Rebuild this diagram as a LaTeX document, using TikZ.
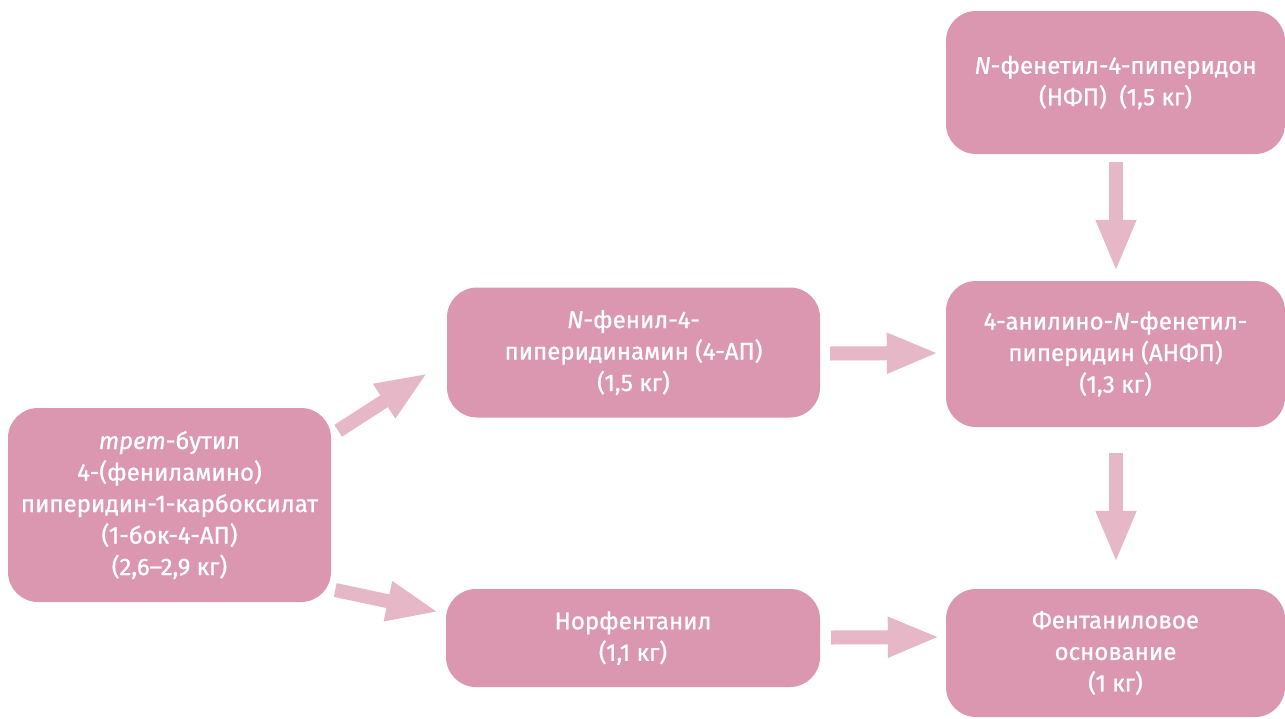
\documentclass[tikz,border=0pt]{standalone}
\usepackage{fontspec}
\setmainfont{Fira Sans}[FakeBold=0.9]
\usetikzlibrary{arrows.meta,calc}
\definecolor{boxpink}{HTML}{DB97B0}
\definecolor{arrowpink}{HTML}{E5B7C7}
\tikzset{
  chembox/.style={rounded corners=30pt, fill=boxpink, text=white, align=center,
    font=\fontsize{24}{31.5}\selectfont, inner sep=0pt},
  blockarrow/.style={draw=arrowpink, line width=14pt,
    -{Triangle[length=52pt,width=37pt]}},
}
\begin{document}
\begin{tikzpicture}[x=1pt,y=-1pt]
\useasboundingbox (0,0) rectangle (1285,718);
\node[chembox, minimum width=323pt, minimum height=194pt] (A) at (169.5,505)
  {\textit{трет}-бутил\\4-(фениламино)\\пиперидин-1-карбоксилат\\(1-бок-4-АП)\\(2,6–2,9 кг)};
\node[chembox, minimum width=373pt, minimum height=130pt] (B) at (633.5,352.5)
  {\textit{N}-фенил-4-\\пиперидинамин (4-АП)\\(1,5 кг)};
\node[chembox, minimum width=339pt, minimum height=143pt] (C) at (1115.5,82.5)
  {\textit{N}-фенетил-4-пиперидон\\(НФП)\ \ (1,5 кг)};
\node[chembox, minimum width=339pt, minimum height=146pt] (D) at (1115.5,354)
  {4-анилино-\textit{N}-фенетил-\\пиперидин (АНФП)\\(1,3 кг)};
\node[chembox, minimum width=374pt, minimum height=98pt] (E) at (633,638)
  {Норфентанил\\(1,1 кг)};
\node[chembox, minimum width=339pt, minimum height=128pt] (F) at (1115.5,653)
  {Фентаниловое\\основание\\(1 кг)};
% arrows
\draw[blockarrow] ($(C.south)+(0.5,8)$) -- ($(D.north)+(0.5,-9)$);
\draw[blockarrow] ($(D.south)+(0.5,26)$) -- ($(F.north)+(0.5,-26)$);
\draw[blockarrow] ($(B.east)+(10,1)$) -- ($(D.west)+(-7,-1)$);
\draw[blockarrow] ($(E.east)+(11,-0.5)$) -- ($(F.west)+(-6,-16)$);
\draw[blockarrow] ($(A.north east)+(7,23)$) -- ($(B.west)+(-19,20.5)$);
\draw[blockarrow] ($(A.east)+(4,85)$) -- ($(E.west)+(-7,-26)$);
\end{tikzpicture}
\end{document}
